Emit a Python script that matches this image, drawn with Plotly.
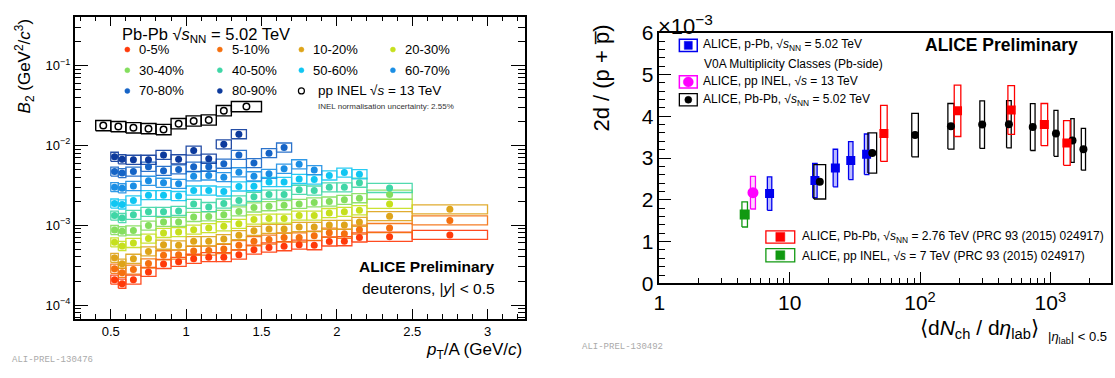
import numpy as np
import plotly.graph_objects as go

W, H = 1115, 378
FONT = "Liberation Sans"

# ---------------- Left panel data: B2 vs pT/A ----------------
bin_lo = [0.50, 0.55, 0.60, 0.70, 0.80, 0.90, 1.00, 1.10, 1.20, 1.30,
          1.40, 1.50, 1.60, 1.70, 1.80, 1.90, 2.00, 2.10, 2.20, 2.50]
bin_hi = [0.55, 0.60, 0.70, 0.80, 0.90, 1.00, 1.10, 1.20, 1.30, 1.40,
          1.50, 1.60, 1.70, 1.80, 1.90, 2.00, 2.10, 2.20, 2.50, 3.00]

centralities = ["0-5%", "5-10%", "10-20%", "20-30%", "30-40%",
                "40-50%", "50-60%", "60-70%", "70-80%", "80-90%"]
cent_colors = ["#ff3a0a", "#f5700f", "#dea41a", "#c6e01e", "#84de5e",
               "#3fd6a6", "#10c6f2", "#1b8ee4", "#1664c6", "#0d3a9c"]

b2_0_5 = [2.08e-4, 1.85e-4, 2.08e-4, 2.60e-4, 3.27e-4, 3.48e-4, 3.80e-4, 3.98e-4, 3.98e-4, 4.28e-4,
          4.94e-4, 5.26e-4, 5.46e-4, 5.71e-4, 5.62e-4, 6.26e-4, 6.31e-4, 7.03e-4, 7.17e-4, 7.56e-4]
b2_5_10 = [2.85e-4, 2.53e-4, 2.78e-4, 3.32e-4, 4.20e-4, 4.28e-4, 4.77e-4, 4.81e-4, 5.04e-4, 5.62e-4,
           6.31e-4, 6.61e-4, 7.03e-4, 7.03e-4, 7.37e-4, 8.05e-4, 7.83e-4, 8.80e-4, 9.22e-4, 1.15e-3]
b2_10_20 = [3.9e-4, 3.3e-4, 3.8e-4, 4.7e-4, 5.7e-4, 5.6e-4, 6.3e-4, 6.3e-4, 6.7e-4, 7.5e-4,
            8.5e-4, 9.0e-4, 9.0e-4, 9.5e-4, 9.5e-4, 1.01e-3, 1.01e-3, 1.10e-3, 1.30e-3, 1.58e-3]
b2_20_30 = [6.1e-4, 5.5e-4, 6.0e-4, 6.8e-4, 8.0e-4, 8.2e-4, 8.8e-4, 9.2e-4, 9.7e-4, 1.04e-3,
            1.18e-3, 1.21e-3, 1.21e-3, 1.32e-3, 1.32e-3, 1.42e-3, 1.47e-3, 1.54e-3, 1.85e-3]
b2_30_40 = [8.7e-4, 8.4e-4, 8.6e-4, 9.9e-4, 1.10e-3, 1.10e-3, 1.27e-3, 1.29e-3, 1.35e-3, 1.49e-3,
            1.67e-3, 1.73e-3, 1.78e-3, 1.85e-3, 1.93e-3, 1.98e-3, 2.08e-3, 2.18e-3, 2.42e-3]
b2_40_50 = [1.32e-3, 1.23e-3, 1.35e-3, 1.47e-3, 1.47e-3, 1.51e-3, 1.85e-3, 1.69e-3, 1.87e-3, 2.04e-3,
            2.27e-3, 2.42e-3, 2.42e-3, 2.78e-3, 2.72e-3, 2.98e-3, 2.98e-3, 3.41e-3, 2.93e-3]
b2_50_60 = [1.87e-3, 1.82e-3, 2.04e-3, 2.38e-3, 2.38e-3, 2.32e-3, 2.72e-3, 2.72e-3, 2.65e-3, 3.06e-3,
            3.08e-3, 3.48e-3, 3.48e-3, 3.80e-3, 3.74e-3, 4.20e-3, 4.56e-3, 4.35e-3]
b2_60_70 = [3.0e-3, 2.9e-3, 3.1e-3, 3.6e-3, 3.4e-3, 3.3e-3, 4.1e-3, 4.2e-3, 4.0e-3, 4.6e-3,
            4.1e-3, 4.4e-3, 5.1e-3, 5.8e-3, 4.9e-3]
b2_70_80 = [4.7e-3, 4.5e-3, 4.7e-3, 5.4e-3, 4.8e-3, 5.0e-3, 5.4e-3, 5.4e-3, 5.9e-3, 7.6e-3,
            6.0e-3, 8.0e-3, 9.4e-3]
b2_80_90 = [7.2e-3, 6.7e-3, 6.6e-3, 6.6e-3, 7.6e-3, 6.7e-3, 8.6e-3, 6.8e-3, 1.03e-2, 1.38e-2]

b2_series = [b2_0_5, b2_5_10, b2_10_20, b2_20_30, b2_30_40,
             b2_40_50, b2_50_60, b2_60_70, b2_70_80, b2_80_90]
stat_rel = [2, 2, 2, 2, 2, 2, 3, 4, 6, 9]     # percent
pbpb_sys_rel = 0.14

pp_lo = [0.4, 0.5, 0.6, 0.7, 0.8, 0.9, 1.0, 1.1, 1.2, 1.3]
pp_hi = [0.5, 0.6, 0.7, 0.8, 0.9, 1.0, 1.1, 1.2, 1.3, 1.5]
pp_b2 = [0.0177, 0.0172, 0.0166, 0.0162, 0.0158, 0.0187, 0.0202, 0.0208, 0.0272, 0.0306]
pp_sys_rel = 0.16
pp_stat_rel = 5

# ---------------- Right panel data: 2d/(p+pbar) vs dNch/deta ----------------
ppb_dn = [7.0, 15.6, 22.4, 29.4, 38.9]
ppb_ratio = [2.15, 2.46, 2.76, 2.94, 3.09]
ppb_sys = [0.40, 0.41, 0.45, 0.455, 0.485]
ppb_dn_rel = [0.04, 0.04, 0.04, 0.04, 0.04]

pp13_dn = [5.22]
pp13_ratio = [2.17]
pp13_sys = [0.39]
pp13_dn_rel = [0.045]

pbpb502_dn = [17.0, 43.0, 91.6, 172.6, 300, 481, 733, 1105, 1480, 1795]
pbpb502_ratio = [2.43, 3.12, 3.55, 3.76, 3.80, 3.81, 3.74, 3.59, 3.42, 3.21]
pbpb502_sys = [0.41, 0.48, 0.52, 0.545, 0.57, 0.565, 0.56, 0.55, 0.525, 0.50]
pbpb502_dn_rel = [0.11, 0.08, 0.06, 0.055, 0.042, 0.042, 0.042, 0.036, 0.03, 0.038]

pbpb276_dn = [52.8, 194, 501, 900, 1340]
pbpb276_ratio = [3.59, 4.13, 4.15, 3.80, 3.36]
pbpb276_sys = [0.67, 0.615, 0.585, 0.505, 0.535]
pbpb276_dn_rel = [0.06, 0.06, 0.06, 0.06, 0.06]

pp7_dn = [4.51]
pp7_ratio = [1.65]
pp7_sys = [0.30]
pp7_dn_rel = [0.05]


def px(x):
    return x / W


def py(y):
    return 1 - y / H


def log_boxes(lo, hi, vals, rel):
    xs, ys = [], []
    for a, b, v in zip(lo, hi, vals):
        y0, y1 = v / (1 + rel), v * (1 + rel)
        xs += [a, b, b, a, a, None]
        ys += [y0, y0, y1, y1, y0, None]
    return xs, ys


def lin_boxes(xv, vals, sys, wrel):
    xs, ys = [], []
    for x, v, s, w in zip(xv, vals, sys, wrel):
        a, b = x / (1 + w), x * (1 + w)
        xs += [a, b, b, a, a, None]
        ys += [v - s, v - s, v + s, v + s, v - s, None]
    return xs, ys


fig = go.Figure()

# left panel: boxes
for vals, col in zip(b2_series, cent_colors):
    n = len(vals)
    bx, by = log_boxes(bin_lo[:n], bin_hi[:n], vals, pbpb_sys_rel)
    fig.add_trace(go.Scatter(x=bx, y=by, mode="lines", xaxis="x", yaxis="y",
                             line=dict(color=col, width=1.3), hoverinfo="skip",
                             showlegend=False, opacity=0.9))
bx, by = log_boxes(pp_lo, pp_hi, pp_b2, pp_sys_rel)
fig.add_trace(go.Scatter(x=bx, y=by, mode="lines", xaxis="x", yaxis="y",
                         line=dict(color="black", width=1.4), hoverinfo="skip",
                         showlegend=False))

# left panel: points
for name, vals, col, st in zip(centralities, b2_series, cent_colors, stat_rel):
    n = len(vals)
    xc = [(a + b) / 2 for a, b in zip(bin_lo[:n], bin_hi[:n])]
    fig.add_trace(go.Scatter(x=xc, y=vals, mode="markers", xaxis="x", yaxis="y", name=name,
                             marker=dict(color=col, size=7, symbol="circle"),
                             error_y=dict(type="percent", value=st, width=0,
                                          thickness=1.3, color=col),
                             showlegend=False))
pp_xc = [(a + b) / 2 for a, b in zip(pp_lo, pp_hi)]
fig.add_trace(go.Scatter(x=pp_xc, y=pp_b2, mode="markers", xaxis="x", yaxis="y",
                         marker=dict(color="white", size=6.5, symbol="circle",
                                     line=dict(color="black", width=1.5)),
                         error_y=dict(type="percent", value=pp_stat_rel, width=0,
                                      thickness=1.3, color="black"),
                         showlegend=False))

# right panel: boxes
right_sets = [
    (pp7_dn, pp7_ratio, pp7_sys, pp7_dn_rel, "#119911", "rgba(0,0,0,0)", "square", 10),
    (pp13_dn, pp13_ratio, pp13_sys, pp13_dn_rel, "#ff00ff", "rgba(255,120,255,0.3)", "circle", 11),
    (ppb_dn, ppb_ratio, ppb_sys, ppb_dn_rel, "#0000ee", "rgba(60,60,255,0.35)", "square", 9),
    (pbpb502_dn, pbpb502_ratio, pbpb502_sys, pbpb502_dn_rel, "black", "rgba(0,0,0,0)", "circle", 8),
    (pbpb276_dn, pbpb276_ratio, pbpb276_sys, pbpb276_dn_rel, "#ff0000", "rgba(0,0,0,0)", "square", 9),
]
for xv, yv, sv, wv, col, fillc, sym, sz in right_sets:
    bx, by = lin_boxes(xv, yv, sv, wv)
    fig.add_trace(go.Scatter(x=bx, y=by, mode="lines", xaxis="x2", yaxis="y2",
                             line=dict(color=col, width=1.3),
                             fill="toself" if fillc != "rgba(0,0,0,0)" else None,
                             fillcolor=fillc, hoverinfo="skip", showlegend=False))
for xv, yv, sv, wv, col, fillc, sym, sz in right_sets:
    fig.add_trace(go.Scatter(x=xv, y=yv, mode="markers", xaxis="x2", yaxis="y2",
                             marker=dict(color=col, size=sz, symbol=sym, line=dict(width=0)),
                             showlegend=False))

shapes = []
annotations = []


def ann(text, x, y, size, xanchor="left", yanchor="middle", color="black", angle=0, family=FONT):
    annotations.append(dict(text=text, x=px(x), y=py(y), xref="paper", yref="paper",
                            xanchor=xanchor, yanchor=yanchor, showarrow=False,
                            textangle=angle, font=dict(size=size, color=color, family=family)))


def mshape(kind, xc, yc, d, fill, line, lw=1.0):
    shapes.append(dict(type=kind, xref="paper", yref="paper", xsizemode="pixel",
                       ysizemode="pixel", xanchor=px(xc), yanchor=py(yc),
                       x0=-d / 2, x1=d / 2, y0=-d / 2, y1=d / 2,
                       fillcolor=fill, line=dict(color=line, width=lw), layer="above"))


def rshape(x0, y0, x1, y1, color, lw=1.3, fill="rgba(0,0,0,0)"):
    shapes.append(dict(type="rect", xref="paper", yref="paper", x0=px(x0), x1=px(x1),
                       y0=py(y1), y1=py(y0), line=dict(color=color, width=lw),
                       fillcolor=fill, layer="above"))


# ---- left legend ----
ann("Pb-Pb √<i>s</i><sub>NN</sub> = 5.02 TeV", 115, 24, 16.5)
leg_cols = [122, 215, 297, 389]
leg_rows = [40, 62, 84]
for i, (name, col) in enumerate(zip(centralities, cent_colors)):
    r, c = divmod(i, 4)
    mshape("circle", leg_cols[c], leg_rows[r], 5, col, col, 0.5)
    ann(name, leg_cols[c] + 10, leg_rows[r], 13)
mshape("circle", leg_cols[2], leg_rows[2], 6, "white", "black", 1.2)
ann("pp INEL √<i>s</i> = 13 TeV", 312, leg_rows[2], 13.5)
ann("INEL normalisation uncertainty: 2.55%", 312, 101, 8, color="#333333")
ann("<b>ALICE Preliminary</b>", 494, 271, 15.5, xanchor="right")
ann("deuterons, |<i>y</i>| < 0.5", 494, 294, 15.5, xanchor="right")
ann("<i>B</i><sub>2</sub> (GeV<sup>2</sup>/<i>c</i><sup>3</sup>)", 19, 57, 17, xanchor="center", angle=-90)
ann("<i>p</i><sub>T</sub>/A (GeV/<i>c</i>)", 521, 361, 17, xanchor="right")
ann("ALI-PREL-130476", 4, 371, 9, color="#aaaaaa", family="Liberation Mono")

# ---- right legend ----
rshape(677, 29, 695, 42, "#0000ee", 1.5)
mshape("rect", 686, 35.5, 8, "#0000ee", "#0000ee", 0.5)
ann("ALICE, p-Pb, √<i>s</i><sub>NN</sub> = 5.02 TeV", 699, 35, 12)
ann("V0A Multiplicity Classes (Pb-side)", 700, 55, 12)
rshape(677, 68, 695, 81, "#ff00ff", 1.5)
mshape("circle", 686, 74.5, 10, "#ff00ff", "#ff00ff", 0.5)
ann("ALICE, pp INEL, √<i>s</i> = 13 TeV", 699, 74, 12)
rshape(677, 87, 695, 100, "black", 1.3)
mshape("circle", 686, 93.5, 7, "black", "black", 0.5)
ann("ALICE, Pb-Pb, √<i>s</i><sub>NN</sub> = 5.02 TeV", 699, 94, 12)
ann("<b>ALICE Preliminary</b>", 1080, 35, 17.5, xanchor="right")

rshape(764, 233, 793, 246, "#ff0000", 1.3)
mshape("rect", 778.5, 239.5, 9, "#ff0000", "#ff0000", 0.5)
ann("ALICE, Pb-Pb, √<i>s</i><sub>NN</sub> = 2.76 TeV (PRC 93 (2015) 024917)", 798, 240, 12)
rshape(764, 252, 793, 266, "#119911", 1.3)
mshape("rect", 778.5, 259, 9, "#119911", "#119911", 0.5)
ann("ALICE, pp INEL, √<i>s</i> = 7 TeV (PRC 93 (2015) 024917)", 798, 260, 12)

ann("2d / (p + p\u0305)", 599, 70, 22, xanchor="center", angle=-90)
ann("×10<sup>−3</sup>", 654, 14, 22)
ann("⟨d<i>N</i><sub>ch</sub> / d<i>η</i><sub>lab</sub>⟩", 1041, 338, 21, xanchor="right")
ann("|<i>η</i><sub>lab</sub>| < 0.5", 1046, 347, 13)
ann("ALI-PREL-130492", 577, 357, 9, color="#aaaaaa", family="Liberation Mono")

# ---- axes ----
left_ymin = [k * 10.0 ** e for e in range(-5, 0) for k in range(2, 10)]
right_xmin = [k * 10.0 ** e for e in range(0, 4) for k in range(2, 10)]
axis_common = dict(showline=True, linecolor="black", linewidth=1.5, ticks="inside",
                   tickcolor="black", tickwidth=1, showgrid=False, zeroline=False)

fig.update_layout(
    width=W, height=H, margin=dict(l=0, r=0, t=0, b=0),
    paper_bgcolor="white", plot_bgcolor="white", showlegend=False,
    font=dict(family=FONT, color="black"),
    xaxis=dict(**axis_common, domain=[px(69), px(522)], range=[0.26, 3.25], anchor="y",
               mirror="ticks", ticklen=10, tickfont=dict(family=FONT, color="black", size=13),
               tickvals=[0.5, 1, 1.5, 2, 2.5, 3], ticktext=["0.5", "1", "1.5", "2", "2.5", "3"],
               minor=dict(tickmode="array", tickvals=[round(v, 2) for v in np.arange(0.3, 3.25, 0.1)],
                          ticks="inside", ticklen=5, tickcolor="black")),
    yaxis=dict(**axis_common, domain=[py(327), py(5)], type="log", range=[-4.176, -0.388],
               anchor="x", mirror="ticks", ticklen=14, tickfont=dict(family=FONT, color="black", size=13),
               tickvals=[1e-4, 1e-3, 1e-2, 1e-1],
               ticktext=["10<sup>−4</sup>", "10<sup>−3</sup>", "10<sup>−2</sup>", "10<sup>−1</sup>"],
               minor=dict(tickmode="array", tickvals=left_ymin, ticks="inside", ticklen=7,
                          tickcolor="black")),
    xaxis2=dict(**axis_common, domain=[px(657), px(1111)], type="log", range=[0, 3.466],
                anchor="y2", mirror=True, ticklen=12, tickfont=dict(family=FONT, color="black", size=21),
                tickvals=[1, 10, 100, 1000], ticktext=["1", "10", "10<sup>2</sup>", "10<sup>3</sup>"],
                minor=dict(tickmode="array", tickvals=right_xmin, ticks="inside", ticklen=6,
                           tickcolor="black")),
    yaxis2=dict(**axis_common, domain=[py(289), py(22)], range=[0, 6], anchor="x2",
                mirror=True, ticklen=12, tickfont=dict(family=FONT, color="black", size=21),
                tickvals=[0, 1, 2, 3, 4, 5, 6],
                ticktext=["0", "1", "2", "3", "4", "5", "6"],
                minor=dict(tickmode="array", tickvals=[round(v, 1) for v in np.arange(0.2, 6.0, 0.2)],
                           ticks="inside", ticklen=6, tickcolor="black")),
    shapes=shapes, annotations=annotations,
)

fig.write_html("out.html", config={"displayModeBar": False},
               post_script="document.body.style.margin='0px';")
